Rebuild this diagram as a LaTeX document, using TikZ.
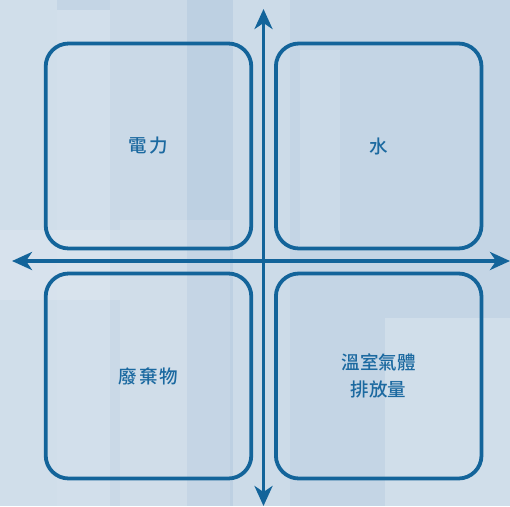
\documentclass[tikz,border=0pt]{standalone}
\usepackage{fontspec}
\newfontfamily\cjk{Noto Sans CJK TC}[BoldFont={Noto Sans CJK TC Medium}]
\newfontfamily\cjkwide{Noto Sans CJK TC}[BoldFont={Noto Sans CJK TC Medium},LetterSpace=12]
\usetikzlibrary{arrows.meta}
\definecolor{axisblue}{HTML}{13649A}
\definecolor{textblue}{HTML}{1B69A0}
\definecolor{bgbase}{HTML}{C4D5E5}
\tikzset{
  quad/.style={draw=axisblue, line width=3.8pt, rounded corners=23pt,
    minimum width=205.6pt, minimum height=205pt, inner sep=0pt,
    font=\cjk\bfseries\fontsize{18.5}{27}\selectfont, text=textblue, align=center},
  widequad/.style={quad, font=\cjkwide\bfseries\fontsize{18.5}{27}\selectfont},
  axisline/.style={draw=axisblue, line width=3.6pt,
    {Stealth[length=20pt,width=18pt,inset=6pt]}-{Stealth[length=20pt,width=18pt,inset=6pt]}},
  panel/.style={fill=white, draw=none}
}
\begin{document}
\begin{tikzpicture}[x=1pt,y=-1pt]
\useasboundingbox (0,0) rectangle (510,506);
% background
\fill[bgbase] (0,0) rectangle (510,506);
\fill[panel, opacity=0.22] (0,0) rectangle (57,506);
\fill[panel, opacity=0.25] (57,10) rectangle (110,506);
\fill[panel, opacity=0.10] (110,0) rectangle (187,506);
\fill[axisblue, opacity=0.04] (187,0) rectangle (233,506);
\fill[panel, opacity=0.15] (233,0) rectangle (290,506);
\fill[panel, opacity=0.12] (120,220) rectangle (230,506);
\fill[panel, opacity=0.22] (385,318) rectangle (510,506);
\fill[panel, opacity=0.12] (300,50) rectangle (340,250);
\fill[panel, opacity=0.15] (0,230) rectangle (120,300);
% boxes
\node[widequad] (power) at (148.5,146) {電力};
\node[quad] (water) at (378.7,146) {水};
\node[widequad] (waste) at (148.5,376) {廢棄物};
\node[quad] (ghg) at (378.7,376) {溫室氣體\\排放量};
% axes
\coordinate (top) at (263.5,9);
\coordinate (bottom) at (263.5,506);
\coordinate (left) at (12,261);
\coordinate (right) at (510,261);
\draw[axisline] (top) -- (bottom);
\draw[axisline] (left) -- (right);
\end{tikzpicture}
\end{document}
